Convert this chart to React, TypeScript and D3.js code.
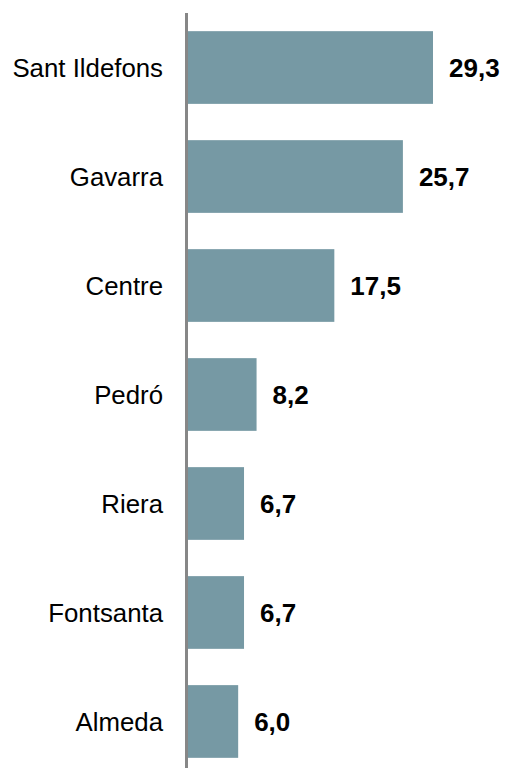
import React from 'react';
import * as d3 from 'd3';

const categories = ['Sant Ildefons', 'Gavarra', 'Centre', 'Pedró', 'Riera', 'Fontsanta', 'Almeda'];
const values = [29.3, 25.7, 17.5, 8.2, 6.7, 6.7, 6.0];
const valueLabels = ['29,3', '25,7', '17,5', '8,2', '6,7', '6,7', '6,0'];

const W = 507;
const H = 768;
const axisX = 186.5;

export default function App() {
  const y = d3
    .scaleBand<string>()
    .domain(categories)
    .range([13, 776])
    .paddingInner(0.333)
    .paddingOuter(0.1667);

  const x = d3.scaleLinear().domain([0, 29.3]).range([188, 433]);

  const font = '"Liberation Sans", Arial, sans-serif';

  return (
    <svg
      width={W}
      height={H}
      style={{ position: 'absolute', left: 0, top: 0, display: 'block', background: '#fff' }}
    >
      {categories.map((c, i) => (
        <g key={c}>
          <rect
            x={x(0)}
            y={y(c)}
            width={x(values[i]) - x(0)}
            height={y.bandwidth()}
            fill="#7699a4"
          />
          <text
            x={163}
            y={(y(c) as number) + y.bandwidth() / 2}
            dy="0.35em"
            textAnchor="end"
            fontFamily={font}
            fontSize={25.8}
            fill="#000"
          >
            {c}
          </text>
          <text
            x={x(values[i]) + 16}
            y={(y(c) as number) + y.bandwidth() / 2}
            dy="0.35em"
            textAnchor="start"
            fontFamily={font}
            fontSize={26}
            fontWeight="bold"
            fill="#000"
          >
            {valueLabels[i]}
          </text>
        </g>
      ))}
      <line x1={axisX} x2={axisX} y1={13} y2={H} stroke="#878787" strokeWidth={3} />
    </svg>
  );
}
